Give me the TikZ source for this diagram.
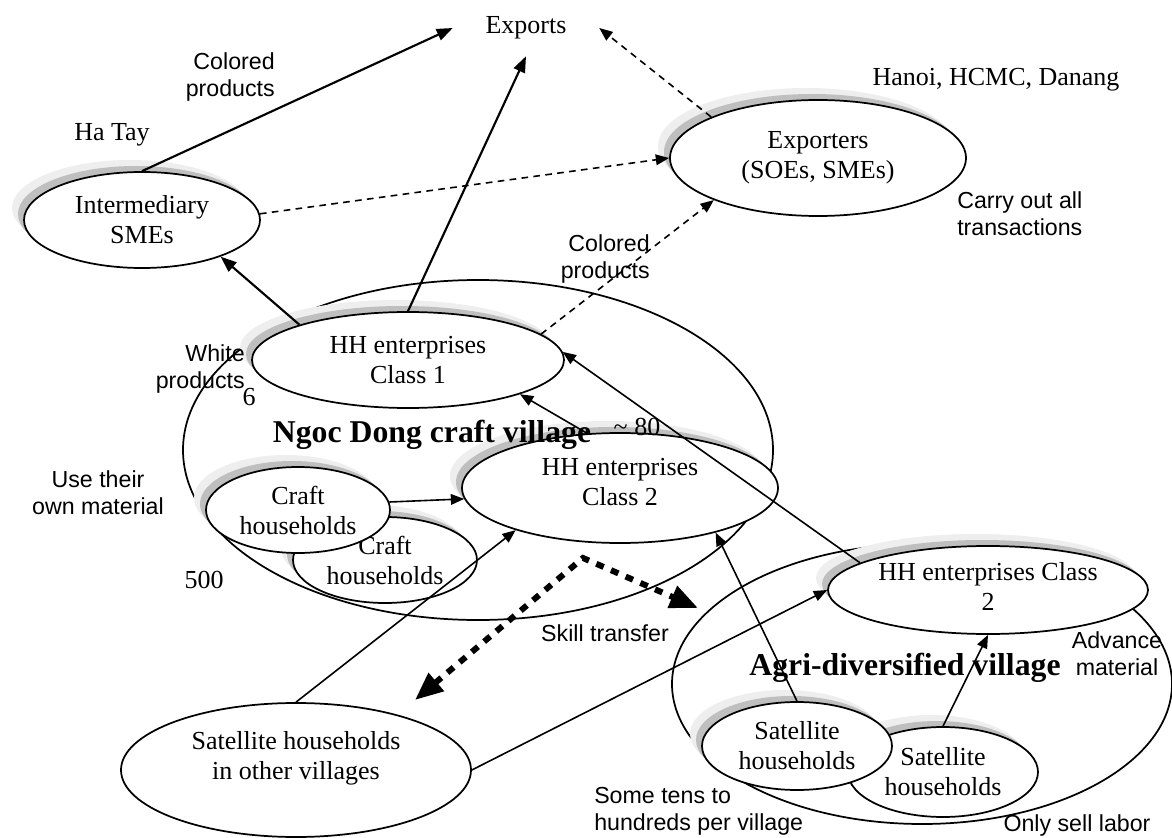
\documentclass[tikz,border=0pt]{standalone}
\usepackage{fontspec}
\setmainfont{Liberation Serif}
\newfontfamily\arialf{Liberation Sans}
\usetikzlibrary{shapes.geometric,arrows.meta,shadows}
\newcommand\sersz{\fontsize{19.5pt}{22.5pt}\selectfont}
\newcommand\sanssz{\arialf\fontsize{17.4pt}{20.5pt}\selectfont}
\newcommand\boldsz{\fontsize{23.8pt}{27pt}\selectfont\bfseries}
\begin{document}
\begin{tikzpicture}[x=0.75pt,y=-0.75pt,
  ell/.style={ellipse, draw, line width=1.3pt, fill=white, inner sep=0pt, align=center, font=\sersz},
  shad/.style={general shadow={fill=gray!13, shadow xshift=-9pt, shadow yshift=9pt},
               general shadow={fill=gray!50, shadow xshift=-4.5pt, shadow yshift=4.5pt}},
  bigell/.style={ellipse, draw, line width=1.3pt, inner sep=0pt},
  lbl/.style={font=\sersz, inner sep=0pt, align=center},
  slbl/.style={font=\sanssz, inner sep=0pt},
  blbl/.style={font=\boldsz, inner sep=0pt},
  arr/.style={-{Triangle[length=10pt,width=8pt]}, line width=1.2pt},
  thickarr/.style={-{Triangle[length=12pt,width=9pt]}, line width=1.6pt},
  darr/.style={-{Triangle[length=10pt,width=8pt]}, line width=1.2pt, dash pattern=on 5pt off 4pt},
  skill/.style={{Triangle[length=21pt,width=17pt]}-{Triangle[length=21pt,width=17pt]}, line width=4.5pt, dash pattern=on 6pt off 6pt}
]
\useasboundingbox (0,0) rectangle (1172,838);

% big village ellipses
\node[bigell, minimum width=442.5pt, minimum height=255pt] (ngoc) at (478,450) {};
\node[bigell, minimum width=375pt, minimum height=210pt] (agri) at (922,684) {};

% shadowed ellipses
\node[ell, shad, minimum width=177pt, minimum height=72pt] (int) at (142,220) {Intermediary\\SMEs};
\node[ell, shad, minimum width=222pt, minimum height=87pt] (xp) at (818,158) {Exporters\\(SOEs, SMEs)};
\node[ell, shad, minimum width=234pt, minimum height=72pt] (c1) at (408,360) {HH enterprises\\Class 1};
\node[ell, shad, minimum width=138pt, minimum height=64.5pt] (cr2) at (385,560) {Craft\\households};
\node[ell, shad, minimum width=138pt, minimum height=64.5pt] (cr1) at (298,510) {Craft\\households};
\node[ell, shad, minimum width=237pt, minimum height=82.5pt,
      label={[lbl, yshift=4.5pt]center:HH enterprises\\Class 2}] (c2) at (620,488) {};
\node[ell, shad, minimum width=240pt, minimum height=66pt,
      label={[lbl, yshift=3pt]center:HH enterprises Class\\2}] (r2) at (988,590) {};
\node[ell, shad, minimum width=142.5pt, minimum height=67.5pt] (sb) at (943,772) {Satellite\\households};
\node[ell, shad, minimum width=142.5pt, minimum height=66pt] (sa) at (797,746) {Satellite\\households};
\node[ell, minimum width=262.5pt, minimum height=100.5pt] (so) at (296,770) {Satellite households\\in other villages\\ };

% labels
\node[lbl, minimum width=109.5pt, minimum height=42pt] (exp) at (526,28) {Exports};
\node[lbl] (hatay) at (112,135) {Ha Tay};
\node[lbl] (hanoi) at (996,80) {Hanoi, HCMC, Danang};
\node[slbl, align=right, anchor=east] (colp1) at (275,77) {Colored\\products};
\node[slbl, align=right, anchor=east] (colp2) at (650,259) {Colored\\products};
\node[slbl, align=left, anchor=west] (carry) at (957,214) {Carry out all\\transactions};
\node[slbl, align=right, anchor=east] (white) at (245,369) {White\\products};
\node[lbl] (six) at (249,397) {6};
\node[lbl] (eighty) at (637,427) {\textasciitilde\ 80};
\node[lbl] (five) at (204,580) {500};
\node[blbl] (ngoct) at (432,435) {Ngoc Dong craft village};
\node[blbl] (agrit) at (905,668) {Agri-diversified village};
\node[slbl, align=center] (use) at (98,493) {Use their\\own material};
\node[slbl, align=center] (adv) at (1117,654) {Advance\\material};
\node[slbl] (skt) at (605,633) {Skill transfer};
\node[slbl, align=left, anchor=west] (tens) at (594,811) {Some tens to\\hundreds per village};
\node[slbl] (sell) at (1077,825) {Only sell labor};

% connectors
\draw[thickarr] (int.north) -- (exp.west);
\draw[thickarr] (c1.north) -- (exp.south);
\draw[darr] (xp.159) -- (exp.east);
\draw[darr] (int.3) -- (xp.west);
\draw[darr] (c1.11) -- (xp.202);
\draw[thickarr] (c1.162) -- (int.-25);
\draw[arr] (c2.121) -- (c1.-17);
\draw[arr] (r2.168) -- (c1.3);
\draw[arr] (cr1.5) -- (c2.184);
\draw[arr] (so.north) -- (c2.202);
\draw[arr] (so.east) -- (r2.west);
\draw[arr] (sa.north) -- (c2.-25);
\draw[arr] (sb.north) -- (r2.south);

\coordinate (st1) at (415,700);
\coordinate (st2) at (583,558);
\coordinate (st3) at (698,608);
\draw[skill] (st1) -- (st2) -- (st3);
\end{tikzpicture}
\end{document}
